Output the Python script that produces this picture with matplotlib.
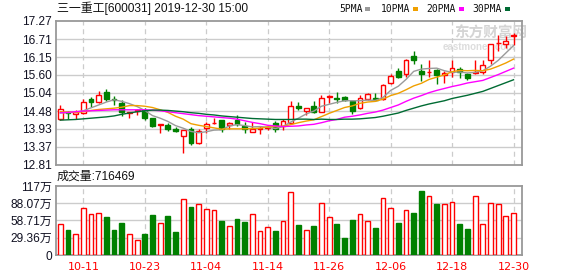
import matplotlib
matplotlib.use('Agg')
import matplotlib.pyplot as plt
from matplotlib.patches import Rectangle

plt.rcParams['font.family'] = ['Liberation Sans', 'Noto Sans CJK SC', 'DejaVu Sans']

# ---------------- data ----------------
dates = ['10-08', '10-09', '10-10', '10-11', '10-14', '10-15', '10-16', '10-17', '10-18',
         '10-21', '10-22', '10-23', '10-24', '10-25', '10-28', '10-29', '10-30', '10-31',
         '11-01', '11-04', '11-05', '11-06', '11-07', '11-08', '11-11', '11-12', '11-13',
         '11-14', '11-15', '11-18', '11-19', '11-20', '11-21', '11-22', '11-25', '11-26',
         '11-27', '11-28', '11-29', '12-02', '12-03', '12-04', '12-05', '12-06', '12-09',
         '12-10', '12-11', '12-12', '12-13', '12-16', '12-17', '12-18', '12-19', '12-20',
         '12-23', '12-24', '12-25', '12-26', '12-27', '12-30']

opens = [14.24, 14.46, 14.40, 14.41, 14.85, 14.77, 15.07, 14.84, 14.73, 14.41,
         14.47, 14.51, 14.27, 14.05, 14.04, 13.91, 13.71, 13.94, 13.48, 13.96,
         14.11, 14.20, 14.05, 14.19, 14.01, 13.83, 13.93, 13.95, 14.11, 14.01,
         14.12, 14.63, 14.49, 14.63, 14.46, 14.93, 14.89, 14.92, 14.79, 14.56,
         14.85, 14.90, 14.84, 15.35, 15.71, 15.62, 16.18, 15.72, 15.68, 15.74,
         15.59, 15.69, 15.77, 15.64, 15.66, 15.69, 16.07, 16.58, 16.57, 16.82]
highs = [14.66, 14.49, 14.50, 14.85, 14.91, 15.09, 15.16, 14.94, 14.82, 14.46,
         14.53, 14.56, 14.28, 14.07, 14.12, 13.99, 13.89, 13.99, 13.94, 14.15,
         14.27, 14.20, 14.14, 14.35, 14.15, 14.15, 14.01, 14.01, 14.16, 14.22,
         14.79, 14.77, 14.59, 14.79, 14.97, 14.97, 15.06, 14.95, 14.80, 14.97,
         15.04, 15.04, 15.31, 15.62, 15.80, 16.08, 16.34, 15.93, 16.07, 15.77,
         15.71, 16.07, 15.83, 15.67, 16.07, 16.05, 16.56, 16.83, 16.79, 16.90]
lows = [14.20, 14.22, 14.22, 14.38, 14.61, 14.72, 14.80, 14.66, 14.32, 14.28,
        14.35, 14.20, 13.98, 13.79, 13.87, 13.83, 13.19, 13.43, 13.45, 13.81,
        14.07, 13.82, 13.94, 14.01, 13.79, 13.82, 13.77, 13.90, 13.84, 13.89,
        14.10, 14.51, 14.36, 14.43, 14.46, 14.73, 14.72, 14.80, 14.39, 14.55,
        14.83, 14.79, 14.82, 15.33, 15.49, 15.54, 15.95, 15.41, 15.54, 15.33,
        15.35, 15.54, 15.52, 15.43, 15.64, 15.64, 15.95, 16.34, 16.44, 16.52]
closes = [14.53, 14.41, 14.45, 14.75, 14.77, 14.99, 14.85, 14.81, 14.46, 14.46,
          14.50, 14.28, 14.01, 14.07, 13.92, 13.87, 13.89, 13.48, 13.87, 14.07,
          14.12, 13.94, 14.10, 14.08, 13.91, 13.93, 13.97, 13.98, 13.93, 14.17,
          14.63, 14.57, 14.59, 14.46, 14.90, 14.94, 14.86, 14.83, 14.49, 14.90,
          15.02, 14.82, 15.28, 15.56, 15.55, 16.07, 16.05, 15.64, 15.69, 15.61,
          15.66, 15.82, 15.69, 15.52, 15.69, 15.92, 16.55, 16.59, 16.64, 16.83]
volumes = [53.4, 42.2, 34.9, 80.4, 70.3, 72.0, 64.1, 42.2, 54.0, 34.9,
           25.3, 35.4, 67.5, 55.1, 65.8, 38.8, 95.6, 81.0, 87.2, 78.7,
           77.0, 57.4, 50.0, 60.7, 55.7, 70.3, 40.0, 46.7, 40.5, 58.5,
           107.4, 50.6, 41.6, 48.9, 88.9, 65.2, 52.3, 28.7, 59.1, 70.3,
           58.5, 45.6, 97.3, 80.4, 54.0, 77.0, 70.9, 108.0, 100.7, 86.0,
           86.0, 90.5, 52.3, 43.9, 100.7, 53.4, 88.9, 86.0, 66.9, 71.65]

ma5 = [14.42, 14.43, 14.45, 14.49, 14.58, 14.67, 14.76, 14.83, 14.78, 14.71,
       14.62, 14.50, 14.34, 14.26, 14.16, 14.03, 13.95, 13.85, 13.81, 13.84,
       13.89, 13.90, 14.02, 14.06, 14.03, 13.99, 14.00, 13.98, 13.94, 14.00,
       14.14, 14.26, 14.39, 14.48, 14.63, 14.69, 14.75, 14.80, 14.80, 14.80,
       14.82, 14.81, 14.90, 15.12, 15.25, 15.46, 15.71, 15.78, 15.80, 15.81,
       15.73, 15.68, 15.69, 15.66, 15.68, 15.73, 15.87, 16.05, 16.28, 16.51]
ma10 = [14.46, 14.45, 14.44, 14.46, 14.50, 14.53, 14.55, 14.57, 14.60, 14.65,
        14.65, 14.63, 14.59, 14.52, 14.44, 14.32, 14.23, 14.09, 14.04, 14.00,
        13.96, 13.92, 13.93, 13.93, 13.93, 13.94, 13.95, 13.99, 14.00, 14.01,
        14.06, 14.12, 14.17, 14.21, 14.31, 14.41, 14.50, 14.59, 14.64, 14.72,
        14.76, 14.78, 14.85, 14.96, 15.03, 15.14, 15.26, 15.34, 15.46, 15.53,
        15.60, 15.70, 15.74, 15.73, 15.74, 15.73, 15.78, 15.87, 15.97, 16.09]
ma20 = [14.43, 14.44, 14.46, 14.48, 14.49, 14.50, 14.51, 14.52, 14.52, 14.52,
        14.52, 14.52, 14.51, 14.49, 14.46, 14.43, 14.40, 14.37, 14.34, 14.32,
        14.30, 14.28, 14.26, 14.23, 14.18, 14.13, 14.09, 14.04, 14.02, 14.00,
        14.01, 14.02, 14.05, 14.07, 14.12, 14.18, 14.22, 14.29, 14.32, 14.36,
        14.41, 14.45, 14.51, 14.59, 14.67, 14.78, 14.88, 14.96, 15.05, 15.12,
        15.18, 15.24, 15.29, 15.35, 15.39, 15.43, 15.52, 15.61, 15.71, 15.81]
ma30 = [14.20, 14.21, 14.22, 14.24, 14.26, 14.28, 14.30, 14.33, 14.38, 14.42,
        14.46, 14.49, 14.51, 14.51, 14.50, 14.48, 14.46, 14.43, 14.41, 14.38,
        14.36, 14.33, 14.31, 14.29, 14.27, 14.25, 14.24, 14.23, 14.22, 14.22,
        14.22, 14.23, 14.23, 14.22, 14.23, 14.22, 14.22, 14.23, 14.23, 14.24,
        14.26, 14.28, 14.32, 14.37, 14.42, 14.50, 14.57, 14.64, 14.70, 14.75,
        14.80, 14.87, 14.92, 14.97, 15.03, 15.09, 15.18, 15.27, 15.36, 15.45]

price_ticks = [12.81, 13.37, 13.93, 14.48, 15.04, 15.60, 16.15, 16.71, 17.27]
price_tick_labels = ['12.81', '13.37', '13.93', '14.48', '15.04', '15.60', '16.15', '16.71', '17.27']
vol_ticks = [0, 29.36, 58.71, 88.07, 117]
vol_tick_labels = ['0', '29.36万', '58.71万', '88.07万', '117万']
xtick_labels = ['10-11', '10-23', '11-04', '11-14', '11-26', '12-06', '12-18', '12-30']
ma_names = ['5PMA', '10PMA', '20PMA', '30PMA']
title_text = '三一重工[600031] 2019-12-30 15:00'
volume_title = '成交量:716469'

# ---------------- style ----------------
RED = '#ff0000'
GREEN = '#008000'
MA_COLORS = ['#9a9a9a', '#f0a000', '#ff00ff', '#006b33']
FRAME = '#999999'
GRID = '#cccccc'
W, H = 578, 276

fig = plt.figure(figsize=(W / 100, H / 100), dpi=100)
fig.patch.set_facecolor('white')

def ax_rect(l, t, r, b):
    return [l / W, 1 - b / H, (r - l) / W, (b - t) / H]

ax = fig.add_axes(ax_rect(56, 21, 522, 165))
axv = fig.add_axes(ax_rect(56, 186, 522, 255))

n = len(closes)
idx = list(range(n))
xtick_pos = [dates.index(d) for d in xtick_labels]
xlim = (-0.56, n + 0.1)

for a in (ax, axv):
    a.set_xlim(*xlim)
    for s in a.spines.values():
        s.set_color(FRAME)
        s.set_linewidth(1.3)
    a.tick_params(axis='both', length=0)
    for xp in xtick_pos:
        a.axvline(xp, color=GRID, lw=0.9, ls=(0, (4, 3)), zorder=0)

# price panel
ax.set_ylim(price_ticks[0], price_ticks[-1])
ax.set_yticks(price_ticks)
ax.set_yticklabels(price_tick_labels, fontsize=8.6, color='#111122')
ax.tick_params(axis='y', pad=3)
ax.set_xticks([])
for t in price_ticks[1:-1]:
    ax.axhline(t, color=GRID, lw=1.0, zorder=0)

up = [c >= o for o, c in zip(opens, closes)]
ccol = [RED if u else GREEN for u in up]
body_bottom = [min(o, c) for o, c in zip(opens, closes)]
body_h = [max(abs(c - o), 0.012) for o, c in zip(opens, closes)]
ax.vlines(idx, lows, highs, colors=ccol, lw=1.0, zorder=2)
ax.bar(idx, body_h, bottom=body_bottom, width=0.62,
       facecolor=['white' if u else GREEN for u in up],
       edgecolor=ccol, linewidth=1.0, zorder=3)

for vals, col in zip([ma5, ma10, ma20, ma30], MA_COLORS):
    ax.plot(idx, vals, color=col, lw=1.0, zorder=4)

# watermark
ax.text(0.855, 0.915, '东方财富网', transform=ax.transAxes, fontsize=10.5,
        color='#d4d4d4', fontweight='bold', va='center', ha='left', zorder=1,
        family=['Noto Sans CJK SC'])
ax.text(0.83, 0.82, 'eastmoney.com', transform=ax.transAxes, fontsize=7,
        color='#dddddd', fontweight='bold', va='center', ha='left', zorder=1)

# volume panel
vol_up = [True] + [closes[i] >= closes[i - 1] for i in range(1, n)]
vcol = [RED if u else GREEN for u in vol_up]
axv.set_ylim(vol_ticks[0], vol_ticks[-1])
axv.set_yticks(vol_ticks)
axv.set_yticklabels(vol_tick_labels, fontsize=8.6, color='#111122')
axv.tick_params(axis='y', pad=3)
for t in vol_ticks[1:-1]:
    axv.axhline(t, color=GRID, lw=1.0, zorder=0)
axv.bar(idx, volumes, width=0.62,
        facecolor=['white' if u else GREEN for u in vol_up],
        edgecolor=vcol, linewidth=1.0, zorder=3)
axv.set_xticks(xtick_pos)
axv.set_xticklabels(xtick_labels, fontsize=8, color=RED, family=['DejaVu Sans'])
axv.tick_params(axis='x', pad=5)

# header texts
fig.text(57 / W, 1 - 8.5 / H, title_text, fontsize=8.6, color='#111111', va='center', ha='left')
fig.text(57 / W, 1 - 177 / H, volume_title, fontsize=8.6, color='#111111', va='center', ha='left')

leg_x = [339, 381, 426, 472]
sq_x = [365, 413, 459, 505]
for name, lx, sx, col in zip(ma_names, leg_x, sq_x, MA_COLORS):
    fig.text(lx / W, 1 - 8.5 / H, name, fontsize=7, color='#111111', va='center', ha='left',
             family=['DejaVu Sans Mono'])
    fig.patches.append(Rectangle((sx / W, 1 - 11 / H), 5 / W, 4 / H,
                                 transform=fig.transFigure, facecolor=col, edgecolor='none'))

fig.savefig('out.png', dpi=100, facecolor='white')
